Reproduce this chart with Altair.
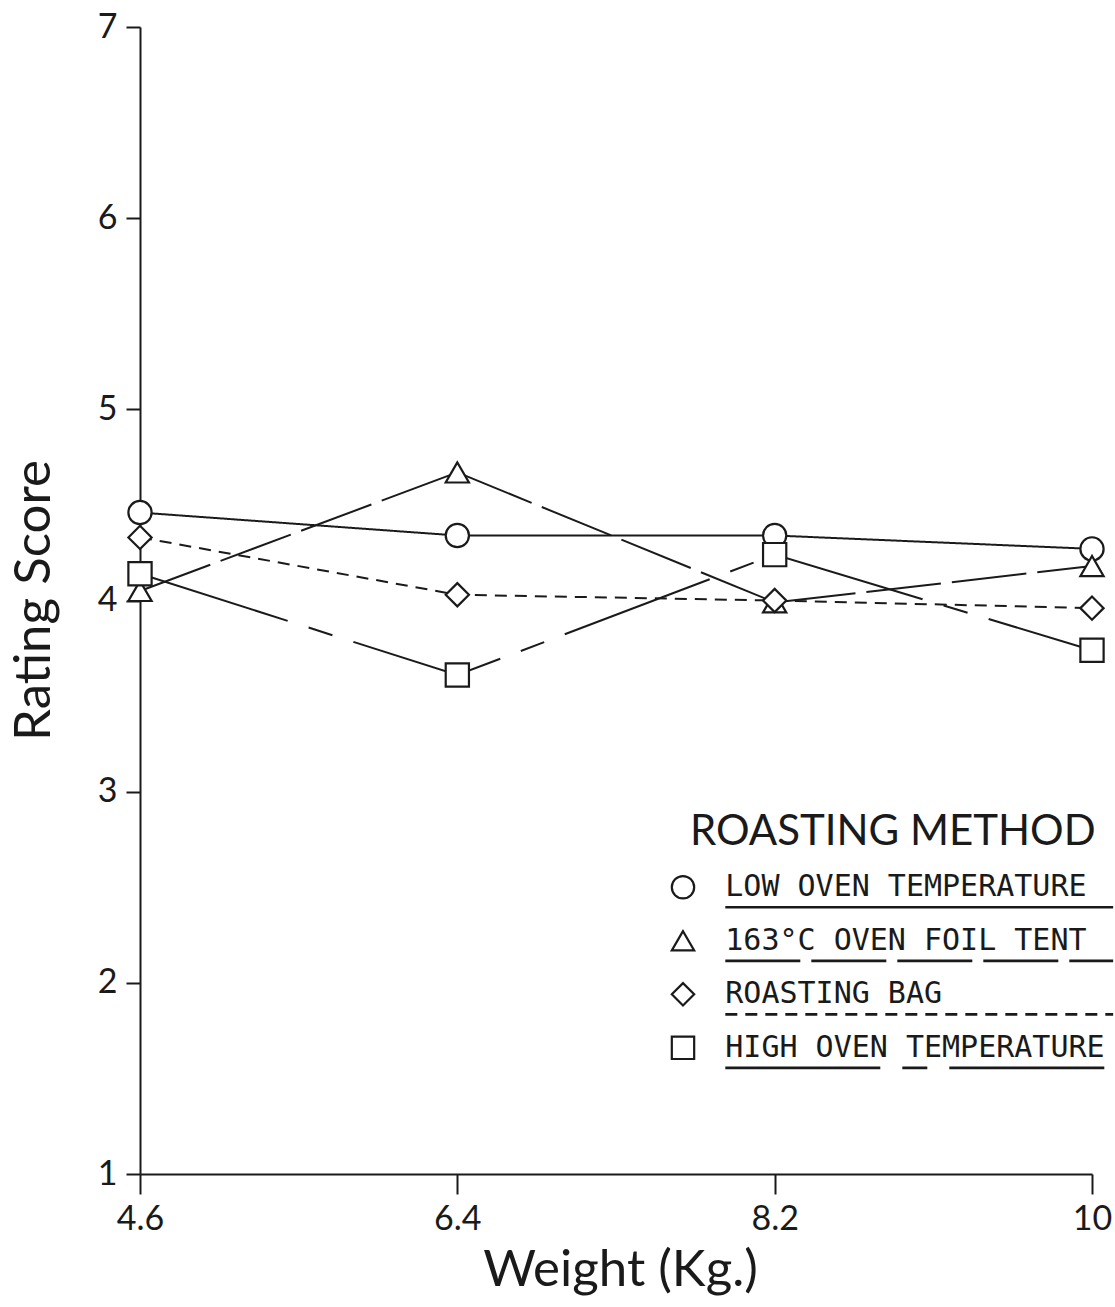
import altair as alt
import pandas as pd

# ---- data ----
weights = [4.6, 6.4, 8.2, 10.0]
methods = ["LOW OVEN TEMPERATURE", "163°C OVEN FOIL TENT", "ROASTING BAG", "HIGH OVEN TEMPERATURE"]
low_oven = [4.46, 4.34, 4.34, 4.27]
foil_tent = [4.05, 4.67, 3.99, 4.18]
roasting_bag = [4.33, 4.03, 4.00, 3.96]
high_oven = [4.14, 3.61, 4.24, 3.74]
x_ticks = [4.6, 6.4, 8.2, 10.0]
y_ticks = [1, 2, 3, 4, 5, 6, 7]
legend_title = "ROASTING METHOD"

# ---- styles ----
shapes = ["circle", "triangle-up", "diamond", "square"]
dashes = [[1, 0], [75, 11], [12, 8], [155, 22, 25, 22]]
INK = "#1a1a1a"

series = [low_oven, foil_tent, roasting_bag, high_oven]
rows = []
for m, vals in zip(methods, series):
    for w, v in zip(weights, vals):
        rows.append({"weight": w, "score": v, "method": m})
df = pd.DataFrame(rows)

# legend layout (in data coordinates)
LEG_SYM_X, LEG_TXT_X, LEG_END_X = 7.68, 7.92, 10.12
LEG_TOP_Y, LEG_STEP, LEG_ULINE = 2.50, 0.28, 0.105
LEG_TITLE_X, LEG_TITLE_Y = 8.87, 2.79
leg = pd.DataFrame({"method": methods})
leg["ly"] = [LEG_TOP_Y - i * LEG_STEP for i in range(len(methods))]
leg["uy"] = leg["ly"] - LEG_ULINE
leg["sx"] = LEG_SYM_X
leg["tx"] = LEG_TXT_X
leg["ex"] = LEG_END_X
title_df = pd.DataFrame({"t": [legend_title], "x": [LEG_TITLE_X], "y": [LEG_TITLE_Y]})

xscale = alt.Scale(domain=[4.6, 10.0], nice=False, zero=False)
yscale = alt.Scale(domain=[1, 7], nice=False, zero=False)
shape_scale = alt.Scale(domain=methods, range=shapes)
dash_scale = alt.Scale(domain=methods, range=dashes)

x_axis = alt.Axis(values=x_ticks, format="~g", grid=False, tickSize=20, labelPadding=8,
                  labelFlush=False, labelOverlap=False,
                  labelFontSize=34, labelFont="Lato", title="Weight (Kg.)", titleFontSize=51,
                  titleFont="Lato", titleFontWeight="normal", titleX=480, titleY=96,
                  titleAlign="center", titleBaseline="middle")
y_axis = alt.Axis(values=y_ticks, format="d", grid=False, tickSize=14, labelPadding=9,
                  labelFlush=False, labelOverlap=False,
                  labelFontSize=34, labelFont="Lato", title="Rating Score", titleFontSize=51,
                  titleFont="Lato", titleFontWeight="normal", titleX=-106, titleY=573,
                  titleAngle=-90, titleAlign="center", titleBaseline="middle")

base = alt.Chart(df)
lines = base.mark_line(color=INK, strokeWidth=2.0).encode(
    x=alt.X("weight:Q", scale=xscale, axis=x_axis),
    y=alt.Y("score:Q", scale=yscale, axis=y_axis),
    strokeDash=alt.StrokeDash("method:N", scale=dash_scale, legend=None),
    detail="method:N",
)
points = base.mark_point(filled=True, fill="white", stroke=INK, strokeWidth=2.2, size=540, opacity=1).encode(
    x=alt.X("weight:Q", scale=xscale),
    y=alt.Y("score:Q", scale=yscale),
    shape=alt.Shape("method:N", scale=shape_scale, legend=None),
)

lb = alt.Chart(leg)
leg_sym = lb.mark_point(filled=True, fill="white", stroke=INK, strokeWidth=2.2, size=500, opacity=1).encode(
    x=alt.X("sx:Q", scale=xscale),
    y=alt.Y("ly:Q", scale=yscale),
    shape=alt.Shape("method:N", scale=shape_scale, legend=None),
)
leg_txt = lb.mark_text(align="left", baseline="middle", font="DejaVu Sans Mono", fontSize=30, color=INK).encode(
    x=alt.X("tx:Q", scale=xscale),
    y=alt.Y("ly:Q", scale=yscale),
    text="method:N",
)
leg_rule = lb.mark_rule(color=INK, strokeWidth=2.6).encode(
    x=alt.X("tx:Q", scale=xscale),
    x2="ex:Q",
    y=alt.Y("uy:Q", scale=yscale),
    strokeDash=alt.StrokeDash("method:N", scale=dash_scale, legend=None),
)
leg_title = alt.Chart(title_df).mark_text(align="center", baseline="middle", font="Lato", fontSize=42, color=INK).encode(
    x=alt.X("x:Q", scale=xscale),
    y=alt.Y("y:Q", scale=yscale),
    text="t:N",
)

chart = alt.layer(lines, points, leg_rule, leg_sym, leg_txt, leg_title).properties(
    width=952, height=1147,
    autosize=alt.AutoSizeParams(type="none"),
    padding={"left": 140, "top": 27, "right": 23, "bottom": 133},
    background="white",
).configure_view(stroke=None).configure_axis(
    domainColor=INK, tickColor=INK, labelColor=INK, titleColor=INK,
    domainWidth=2, tickWidth=2,
)

chart.save("out.html", embed_options={"renderer": "svg", "actions": False})
